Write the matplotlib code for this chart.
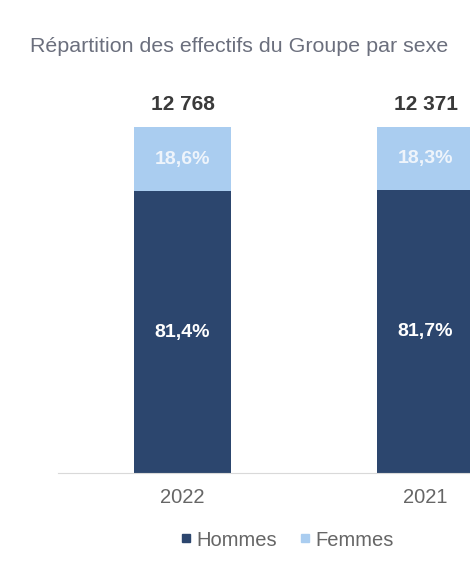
import matplotlib.pyplot as plt
from matplotlib.lines import Line2D

plt.rcParams['font.family'] = ['Liberation Sans', 'DejaVu Sans']

years = ['2022', '2021']
hommes = [81.4, 81.7]
femmes = [18.6, 18.3]
totals = ['12 768', '12 371']

c_h = '#2c466e'
c_f = '#aacdf0'

fig = plt.figure(figsize=(4.70, 5.63), dpi=100)
ax = fig.add_axes([58 / 470, 90 / 563, 1 - 58 / 470, 346 / 563])

x = range(len(years))
ax.bar(x, hommes, width=0.40, color=c_h)
ax.bar(x, femmes, width=0.40, bottom=hommes, color=c_f)

for i in x:
    ax.text(i, hommes[i] / 2, f'{hommes[i]:.1f}%'.replace('.', ','),
            ha='center', va='center', color='white', fontsize=14, fontweight='bold')
    ax.text(i, hommes[i] + femmes[i] / 2, f'{femmes[i]:.1f}%'.replace('.', ','),
            ha='center', va='center', color='#eef4fb', fontsize=14, fontweight='bold')
    ax.annotate(totals[i], (i, 100), xytext=(0, 9), textcoords='offset points',
                ha='center', va='bottom', color='#3a3a3a', fontsize=15, fontweight='bold')

ax.set_xlim(-0.512, 1.183)
ax.set_ylim(0, 100)
ax.set_xticks(list(x))
ax.set_xticklabels(years, fontsize=14.5, color='#666666')
ax.tick_params(axis='x', length=0, pad=11)
ax.set_yticks([])
for s in ['top', 'right', 'left']:
    ax.spines[s].set_visible(False)
ax.spines['bottom'].set_color('#d9d9d9')

fig.text(30 / 470, 1 - 46 / 563, 'Répartition des effectifs du Groupe par sexe',
         ha='left', va='center', fontsize=15.4, color='#6b6f7d')

handles = [Line2D([], [], marker='s', linestyle='', color=c_h, markersize=6),
           Line2D([], [], marker='s', linestyle='', color=c_f, markersize=6)]
fig.legend(handles, ['Hommes', 'Femmes'], loc='center', bbox_to_anchor=(286 / 470, 1 - 540 / 563),
           ncol=2, frameon=False, fontsize=14.5, handletextpad=0.1, columnspacing=1.0,
           handlelength=0.8, labelcolor='#666666')

fig.savefig('out.png', dpi=100)
